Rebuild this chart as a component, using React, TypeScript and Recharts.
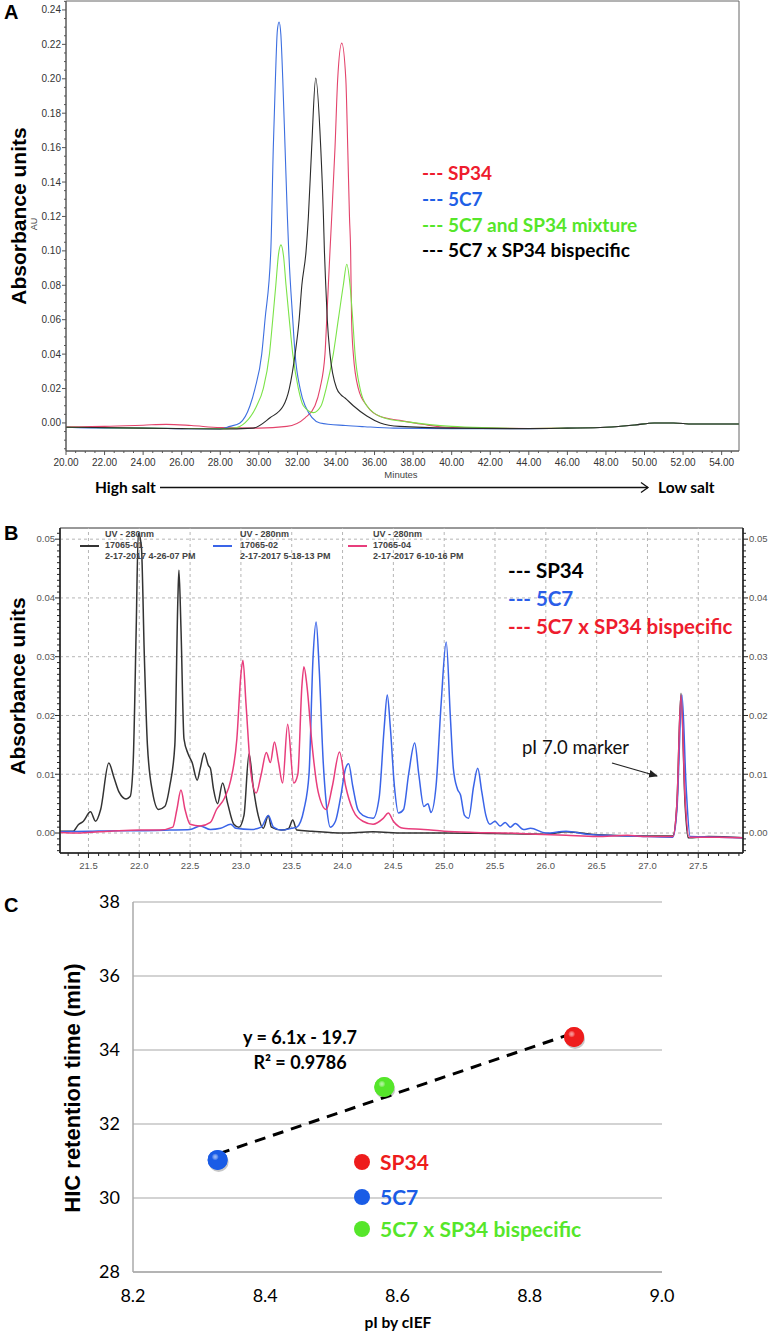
import React from "react"
import {
  CartesianGrid,
  ComposedChart,
  Line,
  LineChart,
  ReferenceArea,
  ReferenceLine,
  Scatter,
  XAxis,
  YAxis,
} from "recharts"

const ARIAL = '"Liberation Sans", Arial, sans-serif'
const LATO = 'Lato, "Open Sans", sans-serif'

// ---------- A: HIC traces, [minutes, AU] ----------
const hicSP34: [number, number][] = [
  [20, -0.0022], [22, -0.002], [24, -0.0013], [25.2, -0.0008], [26.5, -0.0015],
  [28, -0.0027], [30, -0.003], [31.45, -0.002], [32.4, 0.003], [32.91, 0.01],
  [33.17, 0.02], [33.43, 0.04], [33.52, 0.06], [33.69, 0.1], [33.78, 0.12],
  [33.95, 0.16], [34.09, 0.2], [34.3, 0.2207], [34.51, 0.2], [34.61, 0.16],
  [34.7, 0.12], [34.76, 0.1], [34.81, 0.06], [34.9, 0.04], [35.16, 0.02],
  [35.6, 0.01], [36.3, 0.0037], [37.3, 0.0015], [38.5, -0.0008], [39.7, -0.0025],
  [42, -0.003], [44, -0.0032], [46, -0.003], [48, -0.0025], [49.5, -0.0012],
  [50.5, 0], [51.5, 0], [52.5, -0.0006], [54.9, -0.0006],
]
const hic5C7: [number, number][] = [
  [20, -0.0025], [22, -0.003], [24, -0.003], [26, -0.0033], [28, -0.0035],
  [28.5, -0.002], [29.02, 0], [29.54, 0.01], [29.8, 0.02], [30.15, 0.04],
  [30.32, 0.06], [30.62, 0.1], [30.75, 0.16], [30.86, 0.2], [30.96, 0.228],
  [31.05, 0.233], [31.14, 0.226], [31.24, 0.2], [31.36, 0.16], [31.48, 0.12],
  [31.55, 0.1], [31.76, 0.06], [31.88, 0.04], [32.14, 0.02], [32.4, 0.01],
  [33.17, 0], [34.5, -0.0015], [35.5, -0.0022], [37, -0.003], [40, -0.0033],
  [44, -0.0033], [46, -0.003], [48, -0.0025], [49.5, -0.0012], [50.5, 0],
  [51.5, 0], [52.5, -0.0006], [54.9, -0.0006],
]
const hicMixture: [number, number][] = [
  [20, -0.0025], [24, -0.003], [26, -0.0032], [28, -0.0034], [28.7, -0.003],
  [29.28, 0], [29.89, 0.01], [30.23, 0.02], [30.55, 0.04], [30.72, 0.06],
  [30.88, 0.08], [31.02, 0.098], [31.15, 0.1035], [31.28, 0.097], [31.41, 0.08],
  [31.58, 0.06], [31.76, 0.04], [32.05, 0.02], [32.31, 0.01], [32.83, 0.006],
  [33.23, 0.01], [33.49, 0.02], [33.86, 0.04], [34.12, 0.06], [34.38, 0.08],
  [34.56, 0.0922], [34.73, 0.08], [34.87, 0.06], [34.99, 0.04], [35.25, 0.02],
  [35.6, 0.01], [36.46, 0.003], [37.8, 0.0005], [40, -0.002], [42, -0.0028],
  [44, -0.0032], [46, -0.003], [48, -0.0025], [49.5, -0.0012], [50.5, 0],
  [51.5, 0], [52.5, -0.0006], [54.9, -0.0006],
]
const hicBispecific: [number, number][] = [
  [20, -0.0025], [24, -0.003], [26, -0.0033], [28, -0.0035], [29.7, -0.003],
  [30.58, 0.003], [31.27, 0.01], [31.58, 0.02], [31.88, 0.04], [32.09, 0.06],
  [32.23, 0.08], [32.45, 0.1], [32.57, 0.12], [32.74, 0.16], [32.95, 0.2004],
  [33.21, 0.16], [33.35, 0.12], [33.4, 0.1], [33.47, 0.08], [33.55, 0.06],
  [33.69, 0.04], [34.04, 0.02], [34.25, 0.0165], [34.47, 0.0145], [34.9, 0.01],
  [35.6, 0.004], [36.3, 0], [37.3, -0.002], [40, -0.003], [44, -0.0033],
  [46, -0.003], [48, -0.0025], [49.5, -0.0012], [50.5, 0], [51.5, 0],
  [52.5, -0.0006], [54.9, -0.0006],
]
const hicXLabels = [20, 22, 24, 26, 28, 30, 32, 34, 36, 38, 40, 42, 44, 46, 48, 50, 52, 54]
const hicYLabels = [0, 0.02, 0.04, 0.06, 0.08, 0.1, 0.12, 0.14, 0.16, 0.18, 0.2, 0.22, 0.24]
const hicLegend = [
  { label: "--- SP34", color: "#ee1c2e" },
  { label: "--- 5C7", color: "#1f5fe6" },
  { label: "--- 5C7 and SP34 mixture", color: "#55e62a" },
  { label: "--- 5C7 x SP34 bispecific", color: "#000000" },
]

// ---------- B: cIEF traces, [minutes, AU] ----------
const ciefSP34: [number, number][] = [
  [21.22, 0.0003], [21.35, 0.0003], [21.4, 0.0014], [21.45, 0.002], [21.52, 0.0036],
  [21.57, 0.002], [21.62, 0.004], [21.7, 0.0119], [21.75, 0.0095], [21.8, 0.007],
  [21.87, 0.0058], [21.91, 0.0062], [21.94, 0.012], [21.97, 0.035], [21.99, 0.051],
  [22.02, 0.049], [22.05, 0.03], [22.08, 0.015], [22.13, 0.007], [22.19, 0.004],
  [22.25, 0.0045], [22.3, 0.008], [22.35, 0.015], [22.38, 0.04], [22.39, 0.0447],
  [22.41, 0.035], [22.44, 0.016], [22.48, 0.0135], [22.52, 0.012], [22.57, 0.009],
  [22.6, 0.011], [22.64, 0.0136], [22.68, 0.0115], [22.7, 0.011], [22.73, 0.0075],
  [22.77, 0.005], [22.82, 0.0085], [22.87, 0.005], [22.93, 0.0015], [22.98, 0.001],
  [23.03, 0.003], [23.08, 0.0135], [23.12, 0.008], [23.17, 0.003], [23.22, 0.0008],
  [23.27, 0.003], [23.3, 0.001], [23.4, 0.0005], [23.47, 0.0008], [23.51, 0.0022],
  [23.55, 0.0005], [23.7, 0.0003], [24.0, 0], [24.3, 0.0002], [24.6, 0],
  [25.0, 0], [25.5, -0.0001], [26.0, -0.0002], [26.2, 0.0002], [26.5, -0.0003],
  [27.0, -0.0005], [27.25, -0.0005], [27.29, 0.005], [27.33, 0.0238], [27.37, 0.005],
  [27.4, -0.0008], [27.6, -0.0006], [27.94, -0.0008],
]
const cief5C7: [number, number][] = [
  [21.22, 0.0002], [21.5, 0.0003], [21.8, 0.0004], [22.0, 0.0004], [22.3, 0.0005],
  [22.5, 0.0006], [22.6, 0.0012], [22.7, 0.0006], [22.8, 0.0008], [22.9, 0.0015],
  [22.95, 0.0008], [23.1, 0.0006], [23.2, 0.001], [23.27, 0.003], [23.32, 0.001],
  [23.4, 0.0005], [23.5, 0.0008], [23.55, 0.001], [23.62, 0.004], [23.67, 0.01],
  [23.71, 0.03], [23.74, 0.0359], [23.77, 0.028], [23.81, 0.012], [23.84, 0.005],
  [23.88, 0.001], [23.93, 0.002], [23.98, 0.006], [24.03, 0.011], [24.06, 0.0118],
  [24.1, 0.008], [24.15, 0.004], [24.2, 0.003], [24.3, 0.0025], [24.36, 0.006],
  [24.41, 0.018], [24.44, 0.0235], [24.47, 0.018], [24.51, 0.008], [24.55, 0.0034],
  [24.6, 0.004], [24.65, 0.01], [24.71, 0.0153], [24.75, 0.01], [24.8, 0.0045],
  [24.84, 0.005], [24.87, 0.0035], [24.92, 0.008], [24.97, 0.022], [25.02, 0.0325],
  [25.06, 0.02], [25.09, 0.011], [25.13, 0.0075], [25.16, 0.0065], [25.2, 0.003],
  [25.24, 0.0025], [25.29, 0.008], [25.33, 0.011], [25.37, 0.007], [25.41, 0.003],
  [25.45, 0.0015], [25.5, 0.002], [25.55, 0.0012], [25.6, 0.0018], [25.65, 0.001],
  [25.7, 0.0016], [25.78, 0.0006], [25.85, 0.0008], [26.0, 0], [26.2, 0.0003],
  [26.4, -0.0002], [26.6, -0.0004], [27.0, -0.0006], [27.25, -0.0007], [27.29, 0.004],
  [27.34, 0.0235], [27.38, 0.008], [27.42, -0.0006], [27.7, -0.0007], [27.94, -0.0008],
]
const ciefBispecific: [number, number][] = [
  [21.22, 0.0001], [21.4, 0], [21.6, 0.0002], [21.8, 0.0004], [22.0, 0.0005],
  [22.2, 0.0005], [22.33, 0.001], [22.37, 0.004], [22.41, 0.0073], [22.45, 0.004],
  [22.5, 0.0015], [22.6, 0.0012], [22.7, 0.0018], [22.76, 0.004], [22.84, 0.006],
  [22.9, 0.009], [22.96, 0.016], [23.0, 0.027], [23.02, 0.0294], [23.05, 0.022],
  [23.1, 0.01], [23.15, 0.0068], [23.2, 0.01], [23.25, 0.0137], [23.29, 0.012],
  [23.33, 0.0155], [23.37, 0.012], [23.41, 0.0085], [23.46, 0.0185], [23.52, 0.0085],
  [23.56, 0.01], [23.6, 0.025], [23.62, 0.0283], [23.65, 0.025], [23.7, 0.015],
  [23.76, 0.007], [23.84, 0.004], [23.9, 0.008], [23.97, 0.0138], [24.03, 0.008],
  [24.1, 0.004], [24.2, 0.002], [24.3, 0.0015], [24.4, 0.0025], [24.45, 0.0034],
  [24.5, 0.002], [24.6, 0.0008], [24.8, 0.0006], [25.0, 0.0003], [25.3, 0.0001],
  [25.6, 0], [25.9, -0.0002], [26.2, -0.0004], [26.5, -0.0006], [26.8, -0.0004],
  [27.0, -0.0006], [27.25, -0.0006], [27.29, 0.005], [27.33, 0.0235], [27.37, 0.006],
  [27.41, -0.0007], [27.7, -0.0007], [27.94, -0.0008],
]
const ciefXLabels = [21.5, 22, 22.5, 23, 23.5, 24, 24.5, 25, 25.5, 26, 26.5, 27, 27.5]
const ciefYLabels = [0, 0.01, 0.02, 0.03, 0.04, 0.05]
const ciefRuns = [
  { id: "17065-01", time: "2-17-2017 4-26-07 PM", color: "#333333" },
  { id: "17065-02", time: "2-17-2017 5-18-13 PM", color: "#3a64e8" },
  { id: "17065-04", time: "2-17-2017 6-10-16 PM", color: "#e83d7c" },
]
const ciefLegend = [
  { label: "--- SP34", color: "#000000" },
  { label: "--- 5C7", color: "#2a5de8" },
  { label: "--- 5C7 x SP34 bispecific", color: "#ee1c2e" },
]

// ---------- C: pI vs HIC retention ----------
const cNames = ["SP34", "5C7", "5C7 x SP34 bispecific"]
const cColors = ["#ee1c1c", "#1a5ce6", "#55e62a"]
const cPI = [8.867, 8.328, 8.58]
const cHIC = [34.35, 31.03, 33.0]
const cTrend = [
  { x: 8.33, y: 31.2 },
  { x: 8.865, y: 34.45 },
]
const cXLabels = [8.2, 8.4, 8.6, 8.8, 9.0]
const cYLabels = [28, 30, 32, 34, 36, 38]

const pts = (rows: [number, number][]) => rows.map(([t, v]) => ({ t, v }))

const range = (a: number, b: number, s: number) => {
  const out: number[] = []
  const n = Math.round((b - a) / s)
  for (let i = 0; i <= n; i++) out.push(Math.round((a + i * s) * 1e6) / 1e6)
  return out
}

type TickOpts = {
  side: "left" | "right" | "bottom"
  labels: number[]
  digits: number
  long: number
  short: number
  gap: number
  fontSize: number
  color: string
  stroke: string
}

// one axis carries both minor and major ticks; only majors get a label
const makeTick = (o: TickOpts) => (props: any) => {
  const { x, y, payload } = props
  const v = Number(payload.value)
  const major = o.labels.some((m) => Math.abs(m - v) < 1e-7)
  const len = major ? o.long : o.short
  const text = major ? v.toFixed(o.digits) : null
  if (o.side === "bottom") {
    return (
      <g>
        <line x1={x} y1={y} x2={x} y2={y + len} stroke={o.stroke} />
        {text && (
          <text x={x} y={y + o.gap} dy="0.71em" textAnchor="middle" fontSize={o.fontSize} fontFamily={ARIAL} fill={o.color}>
            {text}
          </text>
        )}
      </g>
    )
  }
  const dir = o.side === "left" ? -1 : 1
  return (
    <g>
      <line x1={x} y1={y} x2={x + dir * len} y2={y} stroke={o.stroke} />
      {text && (
        <text
          x={x + dir * o.gap}
          y={y}
          dy="0.35em"
          textAnchor={o.side === "left" ? "end" : "start"}
          fontSize={o.fontSize}
          fontFamily={ARIAL}
          fill={o.color}
        >
          {text}
        </text>
      )}
    </g>
  )
}

const PanelA = () => {
  const xDom: [number, number] = [20, 54.9]
  const yDom: [number, number] = [-0.0163, 0.2452]
  const series = [
    { data: hicSP34, color: "#e3436b" },
    { data: hic5C7, color: "#3d6fe0" },
    { data: hicMixture, color: "#7be348" },
    { data: hicBispecific, color: "#2b2b2b" },
  ]
  return (
    <LineChart width={770} height={500} margin={{ top: 1, right: 31, bottom: 0, left: 0 }}>
      <XAxis
        type="number"
        dataKey="t"
        domain={xDom}
        allowDataOverflow
        ticks={range(20, 54.5, 0.5)}
        interval={0}
        height={49}
        tickSize={0}
        tickMargin={0}
        tickLine={false}
        axisLine={{ stroke: "#555" }}
        tick={makeTick({ side: "bottom", labels: hicXLabels, digits: 2, long: 4, short: 2, gap: 8, fontSize: 10, color: "#333", stroke: "#555" })}
      />
      <YAxis
        type="number"
        domain={yDom}
        allowDataOverflow
        ticks={range(-0.015, 0.245, 0.005)}
        interval={0}
        width={66}
        tickSize={0}
        tickMargin={0}
        tickLine={false}
        axisLine={{ stroke: "#555" }}
        tick={makeTick({ side: "left", labels: hicYLabels, digits: 2, long: 4, short: 2, gap: 5, fontSize: 10, color: "#333", stroke: "#555" })}
      />
      <ReferenceArea x1={xDom[0]} x2={xDom[1]} y1={yDom[0]} y2={yDom[1]} fill="none" stroke="#666" />
      {series.map((s, i) => (
        <Line
          key={i}
          data={pts(s.data)}
          dataKey="v"
          type="monotone"
          stroke={s.color}
          strokeWidth={1.1}
          dot={false}
          isAnimationActive={false}
        />
      ))}
    </LineChart>
  )
}

const PanelB = () => {
  const xDom: [number, number] = [21.22, 27.94]
  const yDom: [number, number] = [-0.0034, 0.0519]
  const yTicks = range(-0.003, 0.051, 0.001)
  const series = [
    { data: ciefSP34, color: "#333333" },
    { data: cief5C7, color: "#3a64e8" },
    { data: ciefBispecific, color: "#e83d7c" },
  ]
  return (
    <LineChart width={770} height={380} margin={{ top: 28, right: 0, bottom: 0, left: 0 }}>
      <XAxis
        type="number"
        dataKey="t"
        domain={xDom}
        allowDataOverflow
        ticks={range(21.3, 27.9, 0.1)}
        interval={0}
        height={27}
        tickSize={0}
        tickMargin={0}
        tickLine={false}
        axisLine={{ stroke: "#222", strokeWidth: 1.5 }}
        tick={makeTick({ side: "bottom", labels: ciefXLabels, digits: 1, long: 5, short: 3, gap: 9, fontSize: 9.5, color: "#555", stroke: "#222" })}
      />
      <YAxis
        yAxisId="l"
        type="number"
        domain={yDom}
        allowDataOverflow
        ticks={yTicks}
        interval={0}
        width={60}
        tickSize={0}
        tickMargin={0}
        tickLine={false}
        axisLine={{ stroke: "#222", strokeWidth: 1.5 }}
        tick={makeTick({ side: "left", labels: ciefYLabels, digits: 2, long: 5, short: 3, gap: 5, fontSize: 9.5, color: "#555", stroke: "#222" })}
      />
      <YAxis
        yAxisId="r"
        orientation="right"
        type="number"
        domain={yDom}
        allowDataOverflow
        ticks={yTicks}
        interval={0}
        width={27}
        tickSize={0}
        tickMargin={0}
        tickLine={false}
        axisLine={{ stroke: "#222", strokeWidth: 1.5 }}
        tick={makeTick({ side: "right", labels: ciefYLabels, digits: 2, long: 5, short: 3, gap: 6, fontSize: 9.5, color: "#555", stroke: "#222" })}
      />
      {ciefXLabels.map((v) => (
        <ReferenceLine key={"x" + v} yAxisId="l" x={v} stroke="#b5b5b5" strokeDasharray="3 3" />
      ))}
      {ciefYLabels.map((v) => (
        <ReferenceLine key={"y" + v} yAxisId="l" y={v} stroke="#b5b5b5" strokeDasharray="3 3" />
      ))}
      <ReferenceArea yAxisId="l" x1={xDom[0]} x2={xDom[1]} y1={yDom[0]} y2={yDom[1]} fill="none" stroke="#333" />
      {series.map((s, i) => (
        <Line
          key={i}
          yAxisId="l"
          data={pts(s.data)}
          dataKey="v"
          type="monotone"
          stroke={s.color}
          strokeWidth={1.5}
          dot={false}
          isAnimationActive={false}
        />
      ))}
    </LineChart>
  )
}

const Ball = ({ cx, cy, color, id }: { cx: number; cy: number; color: string; id: string }) => (
  <g>
    <defs>
      <radialGradient id={id} cx="38%" cy="35%" r="70%">
        <stop offset="0%" stopColor="#ffffff" stopOpacity={0.55} />
        <stop offset="25%" stopColor={color} />
        <stop offset="100%" stopColor={color} stopOpacity={0.85} />
      </radialGradient>
    </defs>
    <circle cx={cx + 1} cy={cy + 2} r={10} fill="rgba(0,0,0,0.22)" />
    <circle cx={cx} cy={cy} r={10} fill={color} />
    <circle cx={cx} cy={cy} r={10} fill={`url(#${id})`} />
  </g>
)

const PanelC = () => (
  <ComposedChart width={770} height={454} margin={{ top: 22, right: 108, bottom: 32, left: 0 }}>
    <CartesianGrid vertical={false} stroke="#c4c4c4" strokeWidth={1.5} />
    <XAxis
      type="number"
      dataKey="x"
      domain={[8.2, 9.0]}
      ticks={cXLabels}
      interval={0}
      height={30}
      tickSize={0}
      tickMargin={17}
      tickLine={false}
      axisLine={{ stroke: "#aaa", strokeWidth: 1.5 }}
      tickFormatter={(v: number) => v.toFixed(1)}
      tick={{ fontFamily: LATO, fontSize: 18, fill: "#000" }}
    />
    <YAxis
      type="number"
      dataKey="y"
      domain={[28, 38]}
      ticks={cYLabels}
      interval={0}
      width={133}
      tickSize={0}
      tickMargin={13}
      tickLine={false}
      axisLine={{ stroke: "#aaa", strokeWidth: 1.5 }}
      tick={{ fontFamily: LATO, fontSize: 18, fill: "#000" }}
    />
    {cNames.map((n, i) => (
      <Scatter
        key={n}
        data={[{ x: cPI[i], y: cHIC[i] }]}
        isAnimationActive={false}
        shape={(p: any) => <Ball cx={p.cx} cy={p.cy} color={cColors[i]} id={`ball${i}`} />}
      />
    ))}
    <ReferenceLine
      segment={cTrend}
      stroke="#000"
      strokeWidth={3}
      strokeDasharray="11 8"
    />
  </ComposedChart>
)

const Overlay = () => (
  <svg width={770} height={1334} style={{ position: "absolute", left: 0, top: 0, pointerEvents: "none" }}>
    <defs>
      <marker id="pin" markerWidth="9" markerHeight="8" refX="8" refY="4" orient="auto" markerUnits="userSpaceOnUse">
        <path d="M0,0 L9,4 L0,8 z" fill="#222" />
      </marker>
    </defs>

    {/* panel letters */}
    <text x={4} y={19} fontFamily={ARIAL} fontWeight="bold" fontSize={20}>A</text>
    <text x={4} y={540} fontFamily={ARIAL} fontWeight="bold" fontSize={20}>B</text>
    <text x={4} y={912} fontFamily={ARIAL} fontWeight="bold" fontSize={20}>C</text>

    {/* A */}
    <text transform="translate(26,216) rotate(-90)" textAnchor="middle" fontFamily={ARIAL} fontWeight="bold" fontSize={21}>
      Absorbance units
    </text>
    <text transform="translate(37,224) rotate(-90)" textAnchor="middle" fontFamily={ARIAL} fontSize={9} fill="#444">
      AU
    </text>
    <text x={401} y={478} textAnchor="middle" fontFamily={ARIAL} fontSize={9.5} fill="#444">Minutes</text>
    {hicLegend.map((l, i) => (
      <text key={l.label} x={422} y={180 + i * 25.8} fontFamily={LATO} fontWeight="bold" fontSize={19} fill={l.color}>
        {l.label}
      </text>
    ))}
    <text x={95} y={493} fontFamily={LATO} fontWeight="bold" fontSize={15.5}>High salt</text>
    <line x1={160} y1={487.5} x2={648} y2={487.5} stroke="#111" strokeWidth={1.3} />
    <polyline points="641,482.5 648,487.5 641,492.5" fill="none" stroke="#111" strokeWidth={1.3} />
    <text x={658} y={493} fontFamily={LATO} fontWeight="bold" fontSize={15.5}>Low salt</text>

    {/* B */}
    <text transform="translate(25,686) rotate(-90)" textAnchor="middle" fontFamily={ARIAL} fontWeight="bold" fontSize={21}>
      Absorbance units
    </text>
    {ciefRuns.map((r, i) => {
      const lx = [80, 213, 348][i]
      const tx = [105, 240, 373][i]
      return (
        <g key={r.id} fontFamily={ARIAL} fontWeight="bold" fontSize={9} fill="#444">
          <line x1={lx} y1={546} x2={lx + 19} y2={546} stroke={r.color} strokeWidth={2} />
          <text x={tx} y={537}>UV - 280nm</text>
          <text x={tx} y={548}>{r.id}</text>
          <text x={tx} y={559}>{r.time}</text>
        </g>
      )
    })}
    {ciefLegend.map((l, i) => (
      <text key={l.label} x={508} y={578 + i * 28} fontFamily={LATO} fontWeight="bold" fontSize={20.5} fill={l.color}>
        {l.label}
      </text>
    ))}
    <text x={522} y={754} fontFamily={LATO} fontSize={18.5} fill="#111">pI 7.0 marker</text>
    <line x1={612} y1={763} x2={657} y2={776} stroke="#222" strokeWidth={1.3} markerEnd="url(#pin)" />

    {/* C */}
    <text transform="translate(80,1088) rotate(-90)" textAnchor="middle" fontFamily={ARIAL} fontWeight="bold" fontSize={22}>
      HIC retention time (min)
    </text>
    <text x={398} y={1328} textAnchor="middle" fontFamily={LATO} fontWeight="bold" fontSize={15.5}>pI by cIEF</text>
    <text x={300} y={1044} textAnchor="middle" fontFamily={LATO} fontWeight="bold" fontSize={18}>y = 6.1x - 19.7</text>
    <text x={300} y={1069} textAnchor="middle" fontFamily={LATO} fontWeight="bold" fontSize={18}>R² = 0.9786</text>
    {cNames.map((n, i) => (
      <g key={n}>
        <circle cx={362} cy={[1162, 1197, 1229][i]} r={8} fill={cColors[i]} />
        <text x={380} y={[1170, 1205, 1237][i]} fontFamily={LATO} fontWeight="bold" fontSize={21} fill={cColors[i]}>
          {n}
        </text>
      </g>
    ))}
  </svg>
)

export default function App() {
  return (
    <div style={{ position: "absolute", left: 0, top: 0, width: 770, height: 1334, background: "#fff", overflow: "hidden" }}>
      <div style={{ position: "absolute", left: 0, top: 0 }}>
        <PanelA />
      </div>
      <div style={{ position: "absolute", left: 0, top: 500 }}>
        <PanelB />
      </div>
      <div style={{ position: "absolute", left: 0, top: 880 }}>
        <PanelC />
      </div>
      <Overlay />
    </div>
  )
}
